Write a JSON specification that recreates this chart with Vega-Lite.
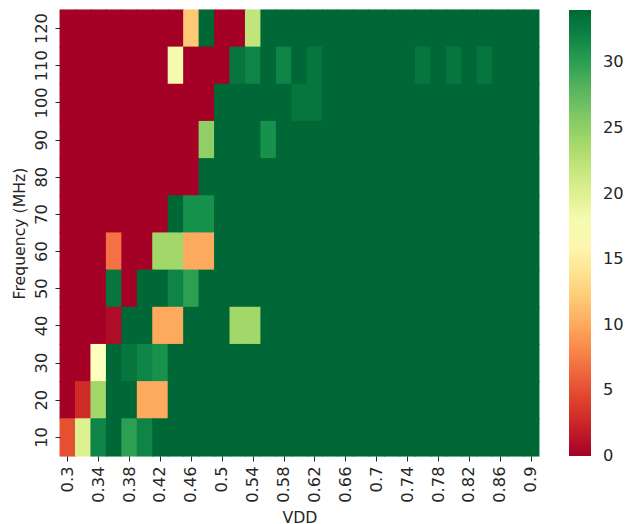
{
  "$schema": "https://vega.github.io/schema/vega-lite/v6.json",
  "width": 479,
  "height": 446,
  "autosize": {"type": "none"},
  "padding": {"left": 60, "top": 10, "right": 88, "bottom": 68},
  "config": {
    "font": "DejaVu Sans",
    "view": {"stroke": null},
    "axis": {"labelFont": "DejaVu Sans", "titleFont": "DejaVu Sans", "labelFontSize": 16.3, "titleFontSize": 15.7, "titleFontWeight": "normal", "labelColor": "#262626", "titleColor": "#262626", "tickColor": "#262626", "tickSize": 5, "tickWidth": 1, "domain": false, "grid": false},
    "legend": {"labelFont": "DejaVu Sans", "labelFontSize": 16.3, "labelColor": "#262626"}
  },
  "data": {"values": [
    {"vdd":0.3,"mhz":120,"val":0},{"vdd":0.32,"mhz":120,"val":0},{"vdd":0.34,"mhz":120,"val":0},{"vdd":0.36,"mhz":120,"val":0},{"vdd":0.38,"mhz":120,"val":0},{"vdd":0.4,"mhz":120,"val":0},{"vdd":0.42,"mhz":120,"val":0},{"vdd":0.44,"mhz":120,"val":0},{"vdd":0.46,"mhz":120,"val":12},{"vdd":0.48,"mhz":120,"val":34},{"vdd":0.5,"mhz":120,"val":0},{"vdd":0.52,"mhz":120,"val":0},{"vdd":0.54,"mhz":120,"val":22},{"vdd":0.56,"mhz":120,"val":34},{"vdd":0.58,"mhz":120,"val":34},{"vdd":0.6,"mhz":120,"val":34},{"vdd":0.62,"mhz":120,"val":34},{"vdd":0.64,"mhz":120,"val":34},{"vdd":0.66,"mhz":120,"val":34},{"vdd":0.68,"mhz":120,"val":34},{"vdd":0.7,"mhz":120,"val":34},{"vdd":0.72,"mhz":120,"val":34},{"vdd":0.74,"mhz":120,"val":34},{"vdd":0.76,"mhz":120,"val":34},{"vdd":0.78,"mhz":120,"val":34},{"vdd":0.8,"mhz":120,"val":34},{"vdd":0.82,"mhz":120,"val":34},{"vdd":0.84,"mhz":120,"val":34},{"vdd":0.86,"mhz":120,"val":34},{"vdd":0.88,"mhz":120,"val":34},{"vdd":0.9,"mhz":120,"val":34},
    {"vdd":0.3,"mhz":110,"val":0},{"vdd":0.32,"mhz":110,"val":0},{"vdd":0.34,"mhz":110,"val":0},{"vdd":0.36,"mhz":110,"val":0},{"vdd":0.38,"mhz":110,"val":0},{"vdd":0.4,"mhz":110,"val":0},{"vdd":0.42,"mhz":110,"val":0},{"vdd":0.44,"mhz":110,"val":18},{"vdd":0.46,"mhz":110,"val":0},{"vdd":0.48,"mhz":110,"val":0},{"vdd":0.5,"mhz":110,"val":0},{"vdd":0.52,"mhz":110,"val":33},{"vdd":0.54,"mhz":110,"val":32},{"vdd":0.56,"mhz":110,"val":34},{"vdd":0.58,"mhz":110,"val":32},{"vdd":0.6,"mhz":110,"val":34},{"vdd":0.62,"mhz":110,"val":33},{"vdd":0.64,"mhz":110,"val":34},{"vdd":0.66,"mhz":110,"val":34},{"vdd":0.68,"mhz":110,"val":34},{"vdd":0.7,"mhz":110,"val":34},{"vdd":0.72,"mhz":110,"val":34},{"vdd":0.74,"mhz":110,"val":34},{"vdd":0.76,"mhz":110,"val":33},{"vdd":0.78,"mhz":110,"val":34},{"vdd":0.8,"mhz":110,"val":33},{"vdd":0.82,"mhz":110,"val":34},{"vdd":0.84,"mhz":110,"val":33},{"vdd":0.86,"mhz":110,"val":34},{"vdd":0.88,"mhz":110,"val":34},{"vdd":0.9,"mhz":110,"val":34},
    {"vdd":0.3,"mhz":100,"val":0},{"vdd":0.32,"mhz":100,"val":0},{"vdd":0.34,"mhz":100,"val":0},{"vdd":0.36,"mhz":100,"val":0},{"vdd":0.38,"mhz":100,"val":0},{"vdd":0.4,"mhz":100,"val":0},{"vdd":0.42,"mhz":100,"val":0},{"vdd":0.44,"mhz":100,"val":0},{"vdd":0.46,"mhz":100,"val":0},{"vdd":0.48,"mhz":100,"val":0},{"vdd":0.5,"mhz":100,"val":34},{"vdd":0.52,"mhz":100,"val":34},{"vdd":0.54,"mhz":100,"val":34},{"vdd":0.56,"mhz":100,"val":34},{"vdd":0.58,"mhz":100,"val":34},{"vdd":0.6,"mhz":100,"val":33},{"vdd":0.62,"mhz":100,"val":33},{"vdd":0.64,"mhz":100,"val":34},{"vdd":0.66,"mhz":100,"val":34},{"vdd":0.68,"mhz":100,"val":34},{"vdd":0.7,"mhz":100,"val":34},{"vdd":0.72,"mhz":100,"val":34},{"vdd":0.74,"mhz":100,"val":34},{"vdd":0.76,"mhz":100,"val":34},{"vdd":0.78,"mhz":100,"val":34},{"vdd":0.8,"mhz":100,"val":34},{"vdd":0.82,"mhz":100,"val":34},{"vdd":0.84,"mhz":100,"val":34},{"vdd":0.86,"mhz":100,"val":34},{"vdd":0.88,"mhz":100,"val":34},{"vdd":0.9,"mhz":100,"val":34},
    {"vdd":0.3,"mhz":90,"val":0},{"vdd":0.32,"mhz":90,"val":0},{"vdd":0.34,"mhz":90,"val":0},{"vdd":0.36,"mhz":90,"val":0},{"vdd":0.38,"mhz":90,"val":0},{"vdd":0.4,"mhz":90,"val":0},{"vdd":0.42,"mhz":90,"val":0},{"vdd":0.44,"mhz":90,"val":0},{"vdd":0.46,"mhz":90,"val":0},{"vdd":0.48,"mhz":90,"val":25},{"vdd":0.5,"mhz":90,"val":34},{"vdd":0.52,"mhz":90,"val":34},{"vdd":0.54,"mhz":90,"val":34},{"vdd":0.56,"mhz":90,"val":31},{"vdd":0.58,"mhz":90,"val":34},{"vdd":0.6,"mhz":90,"val":34},{"vdd":0.62,"mhz":90,"val":34},{"vdd":0.64,"mhz":90,"val":34},{"vdd":0.66,"mhz":90,"val":34},{"vdd":0.68,"mhz":90,"val":34},{"vdd":0.7,"mhz":90,"val":34},{"vdd":0.72,"mhz":90,"val":34},{"vdd":0.74,"mhz":90,"val":34},{"vdd":0.76,"mhz":90,"val":34},{"vdd":0.78,"mhz":90,"val":34},{"vdd":0.8,"mhz":90,"val":34},{"vdd":0.82,"mhz":90,"val":34},{"vdd":0.84,"mhz":90,"val":34},{"vdd":0.86,"mhz":90,"val":34},{"vdd":0.88,"mhz":90,"val":34},{"vdd":0.9,"mhz":90,"val":34},
    {"vdd":0.3,"mhz":80,"val":0},{"vdd":0.32,"mhz":80,"val":0},{"vdd":0.34,"mhz":80,"val":0},{"vdd":0.36,"mhz":80,"val":0},{"vdd":0.38,"mhz":80,"val":0},{"vdd":0.4,"mhz":80,"val":0},{"vdd":0.42,"mhz":80,"val":0},{"vdd":0.44,"mhz":80,"val":0},{"vdd":0.46,"mhz":80,"val":0},{"vdd":0.48,"mhz":80,"val":34},{"vdd":0.5,"mhz":80,"val":34},{"vdd":0.52,"mhz":80,"val":34},{"vdd":0.54,"mhz":80,"val":34},{"vdd":0.56,"mhz":80,"val":34},{"vdd":0.58,"mhz":80,"val":34},{"vdd":0.6,"mhz":80,"val":34},{"vdd":0.62,"mhz":80,"val":34},{"vdd":0.64,"mhz":80,"val":34},{"vdd":0.66,"mhz":80,"val":34},{"vdd":0.68,"mhz":80,"val":34},{"vdd":0.7,"mhz":80,"val":34},{"vdd":0.72,"mhz":80,"val":34},{"vdd":0.74,"mhz":80,"val":34},{"vdd":0.76,"mhz":80,"val":34},{"vdd":0.78,"mhz":80,"val":34},{"vdd":0.8,"mhz":80,"val":34},{"vdd":0.82,"mhz":80,"val":34},{"vdd":0.84,"mhz":80,"val":34},{"vdd":0.86,"mhz":80,"val":34},{"vdd":0.88,"mhz":80,"val":34},{"vdd":0.9,"mhz":80,"val":34},
    {"vdd":0.3,"mhz":70,"val":0},{"vdd":0.32,"mhz":70,"val":0},{"vdd":0.34,"mhz":70,"val":0},{"vdd":0.36,"mhz":70,"val":0},{"vdd":0.38,"mhz":70,"val":0},{"vdd":0.4,"mhz":70,"val":0},{"vdd":0.42,"mhz":70,"val":0},{"vdd":0.44,"mhz":70,"val":34},{"vdd":0.46,"mhz":70,"val":31},{"vdd":0.48,"mhz":70,"val":31},{"vdd":0.5,"mhz":70,"val":34},{"vdd":0.52,"mhz":70,"val":34},{"vdd":0.54,"mhz":70,"val":34},{"vdd":0.56,"mhz":70,"val":34},{"vdd":0.58,"mhz":70,"val":34},{"vdd":0.6,"mhz":70,"val":34},{"vdd":0.62,"mhz":70,"val":34},{"vdd":0.64,"mhz":70,"val":34},{"vdd":0.66,"mhz":70,"val":34},{"vdd":0.68,"mhz":70,"val":34},{"vdd":0.7,"mhz":70,"val":34},{"vdd":0.72,"mhz":70,"val":34},{"vdd":0.74,"mhz":70,"val":34},{"vdd":0.76,"mhz":70,"val":34},{"vdd":0.78,"mhz":70,"val":34},{"vdd":0.8,"mhz":70,"val":34},{"vdd":0.82,"mhz":70,"val":34},{"vdd":0.84,"mhz":70,"val":34},{"vdd":0.86,"mhz":70,"val":34},{"vdd":0.88,"mhz":70,"val":34},{"vdd":0.9,"mhz":70,"val":34},
    {"vdd":0.3,"mhz":60,"val":0},{"vdd":0.32,"mhz":60,"val":0},{"vdd":0.34,"mhz":60,"val":0},{"vdd":0.36,"mhz":60,"val":7},{"vdd":0.38,"mhz":60,"val":0},{"vdd":0.4,"mhz":60,"val":0},{"vdd":0.42,"mhz":60,"val":24},{"vdd":0.44,"mhz":60,"val":24},{"vdd":0.46,"mhz":60,"val":10},{"vdd":0.48,"mhz":60,"val":10},{"vdd":0.5,"mhz":60,"val":34},{"vdd":0.52,"mhz":60,"val":34},{"vdd":0.54,"mhz":60,"val":34},{"vdd":0.56,"mhz":60,"val":34},{"vdd":0.58,"mhz":60,"val":34},{"vdd":0.6,"mhz":60,"val":34},{"vdd":0.62,"mhz":60,"val":34},{"vdd":0.64,"mhz":60,"val":34},{"vdd":0.66,"mhz":60,"val":34},{"vdd":0.68,"mhz":60,"val":34},{"vdd":0.7,"mhz":60,"val":34},{"vdd":0.72,"mhz":60,"val":34},{"vdd":0.74,"mhz":60,"val":34},{"vdd":0.76,"mhz":60,"val":34},{"vdd":0.78,"mhz":60,"val":34},{"vdd":0.8,"mhz":60,"val":34},{"vdd":0.82,"mhz":60,"val":34},{"vdd":0.84,"mhz":60,"val":34},{"vdd":0.86,"mhz":60,"val":34},{"vdd":0.88,"mhz":60,"val":34},{"vdd":0.9,"mhz":60,"val":34},
    {"vdd":0.3,"mhz":50,"val":0},{"vdd":0.32,"mhz":50,"val":0},{"vdd":0.34,"mhz":50,"val":0},{"vdd":0.36,"mhz":50,"val":33},{"vdd":0.38,"mhz":50,"val":0},{"vdd":0.4,"mhz":50,"val":34},{"vdd":0.42,"mhz":50,"val":34},{"vdd":0.44,"mhz":50,"val":32},{"vdd":0.46,"mhz":50,"val":30},{"vdd":0.48,"mhz":50,"val":34},{"vdd":0.5,"mhz":50,"val":34},{"vdd":0.52,"mhz":50,"val":34},{"vdd":0.54,"mhz":50,"val":34},{"vdd":0.56,"mhz":50,"val":34},{"vdd":0.58,"mhz":50,"val":34},{"vdd":0.6,"mhz":50,"val":34},{"vdd":0.62,"mhz":50,"val":34},{"vdd":0.64,"mhz":50,"val":34},{"vdd":0.66,"mhz":50,"val":34},{"vdd":0.68,"mhz":50,"val":34},{"vdd":0.7,"mhz":50,"val":34},{"vdd":0.72,"mhz":50,"val":34},{"vdd":0.74,"mhz":50,"val":34},{"vdd":0.76,"mhz":50,"val":34},{"vdd":0.78,"mhz":50,"val":34},{"vdd":0.8,"mhz":50,"val":34},{"vdd":0.82,"mhz":50,"val":34},{"vdd":0.84,"mhz":50,"val":34},{"vdd":0.86,"mhz":50,"val":34},{"vdd":0.88,"mhz":50,"val":34},{"vdd":0.9,"mhz":50,"val":34},
    {"vdd":0.3,"mhz":40,"val":0},{"vdd":0.32,"mhz":40,"val":0},{"vdd":0.34,"mhz":40,"val":0},{"vdd":0.36,"mhz":40,"val":0.7},{"vdd":0.38,"mhz":40,"val":34},{"vdd":0.4,"mhz":40,"val":34},{"vdd":0.42,"mhz":40,"val":10},{"vdd":0.44,"mhz":40,"val":10},{"vdd":0.46,"mhz":40,"val":34},{"vdd":0.48,"mhz":40,"val":34},{"vdd":0.5,"mhz":40,"val":34},{"vdd":0.52,"mhz":40,"val":24},{"vdd":0.54,"mhz":40,"val":24},{"vdd":0.56,"mhz":40,"val":34},{"vdd":0.58,"mhz":40,"val":34},{"vdd":0.6,"mhz":40,"val":34},{"vdd":0.62,"mhz":40,"val":34},{"vdd":0.64,"mhz":40,"val":34},{"vdd":0.66,"mhz":40,"val":34},{"vdd":0.68,"mhz":40,"val":34},{"vdd":0.7,"mhz":40,"val":34},{"vdd":0.72,"mhz":40,"val":34},{"vdd":0.74,"mhz":40,"val":34},{"vdd":0.76,"mhz":40,"val":34},{"vdd":0.78,"mhz":40,"val":34},{"vdd":0.8,"mhz":40,"val":34},{"vdd":0.82,"mhz":40,"val":34},{"vdd":0.84,"mhz":40,"val":34},{"vdd":0.86,"mhz":40,"val":34},{"vdd":0.88,"mhz":40,"val":34},{"vdd":0.9,"mhz":40,"val":34},
    {"vdd":0.3,"mhz":30,"val":0},{"vdd":0.32,"mhz":30,"val":0},{"vdd":0.34,"mhz":30,"val":17},{"vdd":0.36,"mhz":30,"val":34},{"vdd":0.38,"mhz":30,"val":33},{"vdd":0.4,"mhz":30,"val":32},{"vdd":0.42,"mhz":30,"val":31},{"vdd":0.44,"mhz":30,"val":34},{"vdd":0.46,"mhz":30,"val":34},{"vdd":0.48,"mhz":30,"val":34},{"vdd":0.5,"mhz":30,"val":34},{"vdd":0.52,"mhz":30,"val":34},{"vdd":0.54,"mhz":30,"val":34},{"vdd":0.56,"mhz":30,"val":34},{"vdd":0.58,"mhz":30,"val":34},{"vdd":0.6,"mhz":30,"val":34},{"vdd":0.62,"mhz":30,"val":34},{"vdd":0.64,"mhz":30,"val":34},{"vdd":0.66,"mhz":30,"val":34},{"vdd":0.68,"mhz":30,"val":34},{"vdd":0.7,"mhz":30,"val":34},{"vdd":0.72,"mhz":30,"val":34},{"vdd":0.74,"mhz":30,"val":34},{"vdd":0.76,"mhz":30,"val":34},{"vdd":0.78,"mhz":30,"val":34},{"vdd":0.8,"mhz":30,"val":34},{"vdd":0.82,"mhz":30,"val":34},{"vdd":0.84,"mhz":30,"val":34},{"vdd":0.86,"mhz":30,"val":34},{"vdd":0.88,"mhz":30,"val":34},{"vdd":0.9,"mhz":30,"val":34},
    {"vdd":0.3,"mhz":20,"val":0},{"vdd":0.32,"mhz":20,"val":3},{"vdd":0.34,"mhz":20,"val":24},{"vdd":0.36,"mhz":20,"val":34},{"vdd":0.38,"mhz":20,"val":34},{"vdd":0.4,"mhz":20,"val":10},{"vdd":0.42,"mhz":20,"val":10},{"vdd":0.44,"mhz":20,"val":34},{"vdd":0.46,"mhz":20,"val":34},{"vdd":0.48,"mhz":20,"val":34},{"vdd":0.5,"mhz":20,"val":34},{"vdd":0.52,"mhz":20,"val":34},{"vdd":0.54,"mhz":20,"val":34},{"vdd":0.56,"mhz":20,"val":34},{"vdd":0.58,"mhz":20,"val":34},{"vdd":0.6,"mhz":20,"val":34},{"vdd":0.62,"mhz":20,"val":34},{"vdd":0.64,"mhz":20,"val":34},{"vdd":0.66,"mhz":20,"val":34},{"vdd":0.68,"mhz":20,"val":34},{"vdd":0.7,"mhz":20,"val":34},{"vdd":0.72,"mhz":20,"val":34},{"vdd":0.74,"mhz":20,"val":34},{"vdd":0.76,"mhz":20,"val":34},{"vdd":0.78,"mhz":20,"val":34},{"vdd":0.8,"mhz":20,"val":34},{"vdd":0.82,"mhz":20,"val":34},{"vdd":0.84,"mhz":20,"val":34},{"vdd":0.86,"mhz":20,"val":34},{"vdd":0.88,"mhz":20,"val":34},{"vdd":0.9,"mhz":20,"val":34},
    {"vdd":0.3,"mhz":10,"val":5},{"vdd":0.32,"mhz":10,"val":20},{"vdd":0.34,"mhz":10,"val":32},{"vdd":0.36,"mhz":10,"val":34},{"vdd":0.38,"mhz":10,"val":30},{"vdd":0.4,"mhz":10,"val":32},{"vdd":0.42,"mhz":10,"val":34},{"vdd":0.44,"mhz":10,"val":34},{"vdd":0.46,"mhz":10,"val":34},{"vdd":0.48,"mhz":10,"val":34},{"vdd":0.5,"mhz":10,"val":34},{"vdd":0.52,"mhz":10,"val":34},{"vdd":0.54,"mhz":10,"val":34},{"vdd":0.56,"mhz":10,"val":34},{"vdd":0.58,"mhz":10,"val":34},{"vdd":0.6,"mhz":10,"val":34},{"vdd":0.62,"mhz":10,"val":34},{"vdd":0.64,"mhz":10,"val":34},{"vdd":0.66,"mhz":10,"val":34},{"vdd":0.68,"mhz":10,"val":34},{"vdd":0.7,"mhz":10,"val":34},{"vdd":0.72,"mhz":10,"val":34},{"vdd":0.74,"mhz":10,"val":34},{"vdd":0.76,"mhz":10,"val":34},{"vdd":0.78,"mhz":10,"val":34},{"vdd":0.8,"mhz":10,"val":34},{"vdd":0.82,"mhz":10,"val":34},{"vdd":0.84,"mhz":10,"val":34},{"vdd":0.86,"mhz":10,"val":34},{"vdd":0.88,"mhz":10,"val":34},{"vdd":0.9,"mhz":10,"val":34}
  ]},
  "mark": {"type": "rect", "width": {"band": 1.06}, "height": {"band": 1.03}},
  "encoding": {
    "x": {
      "field": "vdd", "type": "ordinal", "sort": "ascending",
      "scale": {"paddingInner": 0, "paddingOuter": 0},
      "axis": {"title": "VDD", "labelAngle": -90, "labelAlign": "right", "labelBaseline": "middle", "labelPadding": 5, "titlePadding": 8,
        "values": [0.3, 0.34, 0.38, 0.42, 0.46, 0.5, 0.54, 0.58, 0.62, 0.66, 0.7, 0.74, 0.78, 0.82, 0.86, 0.9]}
    },
    "y": {
      "field": "mhz", "type": "ordinal", "sort": "descending",
      "scale": {"paddingInner": 0, "paddingOuter": 0},
      "axis": {"title": "Frequency (MHz)", "labelAngle": -90, "labelAlign": "center", "labelBaseline": "bottom", "labelPadding": 6, "titlePadding": 6}
    },
    "color": {
      "field": "val", "type": "quantitative",
      "scale": {"type": "linear", "domain": [-0.001, 3.4, 6.8, 10.2, 13.6, 17, 20.4, 23.8, 27.2, 30.6, 34],
        "range": ["#a50026", "#d73027", "#f46d43", "#fdae61", "#fee08b", "#ffffbf", "#d9ef8b", "#a6d96a", "#66bd63", "#1a9850", "#006837"]},
      "legend": {"title": null, "type": "gradient", "direction": "vertical", "gradientLength": 446, "gradientThickness": 22, "offset": 30, "padding": 0,
        "values": [0, 5, 10, 15, 20, 25, 30], "labelOverlap": false, "labelOffset": 12, "gradientStrokeWidth": 0}
    }
  }
}
